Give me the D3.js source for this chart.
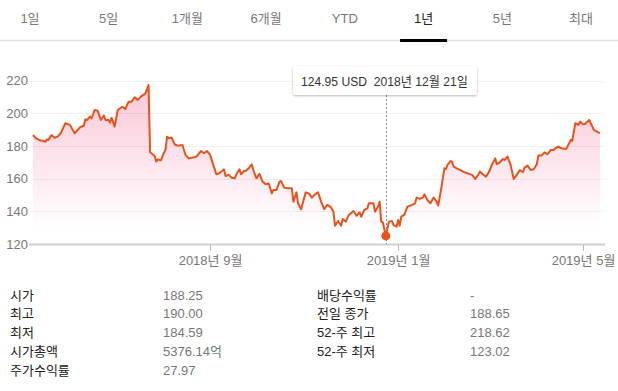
<!DOCTYPE html>
<html lang="ko">
<head>
<meta charset="UTF-8">
<title>1년 주가 차트</title>
<style>
	body { margin: 0; background: #fff; }
	svg { display: block; font-family: Arial, "Liberation Sans", "Noto Sans CJK KR", sans-serif; font-size: 13px; }
	.tab { fill: #777; }
	.tab.on { fill: #222; }
	.ylab { fill: #777; }
	.xlab { fill: #777; }
	.grid line { stroke: #efefef; }
	.lab { fill: #222; }
	.val { fill: #777; }
</style>
<script src="https://cdnjs.cloudflare.com/ajax/libs/d3/7.8.5/d3.min.js"></script>
</head>
<body>
<script>
	// range tabs
	var tabs = ["1일", "5일", "1개월", "6개월", "YTD", "1년", "5년", "최대"];
	var activeTab = "1년";

	// closing prices
	var dates = ["2018-05-09","2018-05-11","2018-05-14","2018-05-16","2018-05-17","2018-05-18","2018-05-19","2018-05-21","2018-05-23","2018-05-25","2018-05-27","2018-05-30",
		"2018-06-02","2018-06-05","2018-06-07","2018-06-09","2018-06-11","2018-06-12","2018-06-13","2018-06-15","2018-06-16","2018-06-18","2018-06-20","2018-06-22","2018-06-24","2018-06-25","2018-06-27","2018-06-28","2018-06-29",
		"2018-07-01","2018-07-03","2018-07-06","2018-07-08","2018-07-10","2018-07-12","2018-07-14","2018-07-16","2018-07-18","2018-07-21","2018-07-23","2018-07-24","2018-07-27","2018-07-28","2018-07-29","2018-07-31",
		"2018-08-02","2018-08-03","2018-08-04","2018-08-05","2018-08-07","2018-08-09","2018-08-11","2018-08-14","2018-08-16","2018-08-18","2018-08-21","2018-08-23","2018-08-24","2018-08-26","2018-08-28","2018-08-30",
		"2018-09-01","2018-09-03","2018-09-05","2018-09-07","2018-09-10","2018-09-11","2018-09-13","2018-09-15","2018-09-17","2018-09-18","2018-09-20","2018-09-21","2018-09-23","2018-09-24","2018-09-26","2018-09-28","2018-09-29",
		"2018-10-01","2018-10-03","2018-10-05","2018-10-07","2018-10-09","2018-10-11","2018-10-12","2018-10-14","2018-10-16","2018-10-17","2018-10-19","2018-10-21","2018-10-24","2018-10-25","2018-10-27","2018-10-28","2018-10-30",
		"2018-11-02","2018-11-04","2018-11-06","2018-11-08","2018-11-10","2018-11-12","2018-11-14","2018-11-16","2018-11-18","2018-11-20","2018-11-21","2018-11-23","2018-11-25","2018-11-26","2018-11-28","2018-11-30",
		"2018-12-03","2018-12-05","2018-12-07","2018-12-08","2018-12-10","2018-12-12","2018-12-13","2018-12-16","2018-12-17","2018-12-19","2018-12-20","2018-12-21","2018-12-22","2018-12-24","2018-12-26","2018-12-28","2018-12-29","2018-12-31",
		"2019-01-01","2019-01-02","2019-01-03","2019-01-05","2019-01-07","2019-01-10","2019-01-12","2019-01-13","2019-01-15","2019-01-17","2019-01-18","2019-01-20","2019-01-22","2019-01-24","2019-01-26","2019-01-27","2019-01-29","2019-01-31",
		"2019-02-01","2019-02-02","2019-02-04","2019-02-05","2019-02-06","2019-02-08","2019-02-11","2019-02-13","2019-02-16","2019-02-18","2019-02-20","2019-02-22","2019-02-23","2019-02-25","2019-02-27",
		"2019-03-01","2019-03-03","2019-03-05","2019-03-06","2019-03-08","2019-03-10","2019-03-11","2019-03-13","2019-03-15","2019-03-17","2019-03-19","2019-03-21","2019-03-23","2019-03-24","2019-03-26","2019-03-28","2019-03-30",
		"2019-04-01","2019-04-02","2019-04-04","2019-04-06","2019-04-08","2019-04-10","2019-04-12","2019-04-13","2019-04-15","2019-04-17","2019-04-20","2019-04-22","2019-04-23","2019-04-24","2019-04-26","2019-04-28","2019-04-29",
		"2019-05-01","2019-05-02","2019-05-05","2019-05-06","2019-05-08","2019-05-10","2019-05-12"];
	var closes = [186.7,184.7,183.3,183.0,182.6,184.0,183.7,186.7,185.0,185.7,187.8,193.9,
		192.9,187.8,189.8,191.8,192.4,196.3,195.9,198.0,196.9,202.0,201.6,195.9,198.6,195.9,195.9,194.3,197.3,
		191.8,202.0,204.0,202.7,207.1,207.1,209.8,208.2,210.2,212.2,217.3,176.1,173.9,170.4,171.8,171.2,
		175.9,177.6,185.7,184.7,185.1,180.9,180.2,180.6,174.5,172.4,172.9,173.5,174.5,176.9,175.5,176.9,
		174.5,168.4,162.7,163.3,165.7,161.6,162.3,160.6,160.2,162.7,165.7,162.7,164.7,164.7,166.3,168.8,165.3,
		160.2,162.9,158.2,156.5,157.1,151.0,153.0,153.0,158.2,158.6,154.5,154.1,154.1,145.9,151.6,144.9,141.2,
		151.6,151.0,148.4,150.4,151.6,145.9,141.4,143.9,142.9,139.8,131.2,134.1,131.2,135.3,133.7,137.8,
		140.2,137.3,139.4,136.7,140.8,141.8,144.9,144.9,139.8,142.9,145.9,133.7,133.3,124.95,133.7,134.1,131.6,130.6,
		134.7,131.2,136.7,137.8,142.9,143.9,144.9,148.4,147.6,148.4,150.4,146.9,144.9,148.4,145.9,143.5,154.1,166.3,
		165.9,168.4,170.8,170.4,167.3,166.3,164.9,163.9,162.9,162.3,159.8,162.3,164.3,162.7,161.2,
		164.3,168.8,172.4,168.8,170.0,172.0,171.4,173.5,168.4,159.8,162.3,165.3,163.9,166.7,168.0,165.3,165.7,
		168.8,174.1,174.1,176.1,174.9,177.6,177.6,178.6,179.6,178.6,178.2,181.6,183.7,183.1,193.9,192.9,194.9,
		193.3,193.3,195.9,193.9,189.8,188.8,187.8];

	var yTicks = [120, 140, 160, 180, 200, 220];
	var xTicks = ["2018-09-01", "2019-01-01", "2019-05-01"];
	var xTickLabels = ["2018년 9월", "2019년 1월", "2019년 5월"];

	var tipText = "124.95 USD  2018년 12월 21일";

	// key stats
	var statLabelsL = ["시가", "최고", "최저", "시가총액", "주가수익률"];
	var statValuesL = ["188.25", "190.00", "184.59", "5376.14억", "27.97"];
	var statLabelsR = ["배당수익률", "전일 종가", "52-주 최고", "52-주 최저"];
	var statValuesR = ["-", "188.65", "218.62", "123.02"];

	const w = 618, h = 391;
	var parse = d3.timeParse("%Y-%m-%d");
	var data = dates.map((d, i) => ({ date: parse(d), v: closes[i] }));

	const svg = d3.select("body").append("svg")
		.attr("width", w)
		.attr("height", h);

	var defs = svg.append("defs");
	var grad = defs.append("linearGradient")
		.attr("id", "fillGrad")
		.attr("gradientUnits", "userSpaceOnUse")
		.attr("x1", 0).attr("x2", 0)
		.attr("y1", 80).attr("y2", 228);
	grad.append("stop").attr("offset", 0).attr("stop-color", "#ee3f74").attr("stop-opacity", 0.3);
	grad.append("stop").attr("offset", 1).attr("stop-color", "#ee3f74").attr("stop-opacity", 0);

	var shadow = defs.append("filter").attr("id", "shadow")
		.attr("x", "-10%").attr("y", "-30%").attr("width", "120%").attr("height", "170%");
	shadow.append("feDropShadow")
		.attr("dx", 0).attr("dy", 1).attr("stdDeviation", 1.3)
		.attr("flood-color", "#000").attr("flood-opacity", 0.28);

	// tabs
	var tabX = d3.scalePoint().domain(tabs).range([30, 581]);
	svg.append("line")
		.attr("x1", 0).attr("x2", w)
		.attr("y1", 40.5).attr("y2", 40.5)
		.attr("stroke", "#e2e2e2").attr("stroke-width", 1.5);
	svg.append("g").selectAll("text")
		.data(tabs).enter()
		.append("text")
		.attr("class", d => d === activeTab ? "tab on" : "tab")
		.attr("x", d => tabX(d))
		.attr("y", 18)
		.attr("dy", "0.35em")
		.attr("text-anchor", "middle")
		.text(d => d);
	svg.append("rect")
		.attr("x", tabX(activeTab) - 23.5)
		.attr("y", 39)
		.attr("width", 47)
		.attr("height", 3)
		.attr("fill", "#000");

	// scales
	var xScale = d3.scaleTime()
		.domain(d3.extent(data, d => d.date))
		.range([33, 600]);
	var yScale = d3.scaleLinear()
		.domain([120, 220])
		.range([244, 80.6]);

	// gridlines
	svg.append("g").attr("class", "grid")
		.selectAll("line")
		.data(yTicks.slice(1)).enter()
		.append("line")
		.attr("x1", 30).attr("x2", 605)
		.attr("y1", d => Math.round(yScale(d)) + 0.5)
		.attr("y2", d => Math.round(yScale(d)) + 0.5);

	svg.append("g").selectAll("text")
		.data(yTicks).enter()
		.append("text")
		.attr("class", "ylab")
		.attr("x", 28)
		.attr("y", d => yScale(d))
		.attr("dy", "0.35em")
		.attr("text-anchor", "end")
		.text(d => d);

	// area + line
	var area = d3.area()
		.x(d => xScale(d.date))
		.y0(yScale(120))
		.y1(d => yScale(d.v));
	var line = d3.line()
		.x(d => xScale(d.date))
		.y(d => yScale(d.v));

	svg.append("path")
		.datum(data)
		.attr("d", area)
		.attr("fill", "url(#fillGrad)");

	// baseline + ticks
	svg.append("line")
		.attr("x1", 29).attr("x2", 605)
		.attr("y1", 244.5).attr("y2", 244.5)
		.attr("stroke", "#cfcfcf").attr("stroke-width", 2);
	var xt = svg.append("g").selectAll("g")
		.data(xTicks).enter()
		.append("g")
		.attr("transform", d => "translate(" + Math.round(xScale(parse(d))) + ".5,0)");
	xt.append("line")
		.attr("y1", 245).attr("y2", 251)
		.attr("stroke", "#bbb");
	xt.append("text")
		.attr("class", "xlab")
		.attr("y", 260)
		.attr("dy", "0.35em")
		.attr("text-anchor", "middle")
		.text((d, i) => xTickLabels[i]);

	// hover marker at the low point
	var low = d3.least(data, d => d.v);
	var hx = xScale(low.date);
	svg.append("line")
		.attr("x1", Math.round(hx) + 0.5).attr("x2", Math.round(hx) + 0.5)
		.attr("y1", 95).attr("y2", 244)
		.attr("stroke", "#888")
		.attr("stroke-dasharray", "2,2");

	svg.append("path")
		.datum(data)
		.attr("d", line)
		.attr("fill", "none")
		.attr("stroke", "#e8521d")
		.attr("stroke-width", 2)
		.attr("stroke-linejoin", "round");

	svg.append("circle")
		.attr("cx", hx)
		.attr("cy", yScale(low.v))
		.attr("r", 4.5)
		.attr("fill", "#e8521d");

	// tooltip
	var tip = svg.append("g");
	tip.append("rect")
		.attr("x", 293).attr("y", 66)
		.attr("width", 184).attr("height", 29)
		.attr("rx", 2)
		.attr("fill", "#fff")
		.attr("filter", "url(#shadow)");
	tip.append("text")
		.attr("x", 301).attr("y", 81)
		.attr("dy", "0.35em")
		.attr("fill", "#333")
		.attr("textLength", 167)
		.attr("lengthAdjust", "spacingAndGlyphs")
		.style("white-space", "pre")
		.text(tipText);

	// stats table
	var rowY = d3.scaleLinear().domain([0, 4]).range([295, 370.5]);
	var stats = svg.append("g");
	stats.selectAll(".l1").data(statLabelsL).enter().append("text")
		.attr("class", "lab").attr("x", 10).attr("y", (d, i) => rowY(i)).attr("dy", "0.35em").text(d => d);
	stats.selectAll(".v1").data(statValuesL).enter().append("text")
		.attr("class", "val").attr("x", 163).attr("y", (d, i) => rowY(i)).attr("dy", "0.35em").text(d => d);
	stats.selectAll(".l2").data(statLabelsR).enter().append("text")
		.attr("class", "lab").attr("x", 317).attr("y", (d, i) => rowY(i)).attr("dy", "0.35em").text(d => d);
	stats.selectAll(".v2").data(statValuesR).enter().append("text")
		.attr("class", "val").attr("x", 470).attr("y", (d, i) => rowY(i)).attr("dy", "0.35em").text(d => d);
</script>
</body>
</html>
